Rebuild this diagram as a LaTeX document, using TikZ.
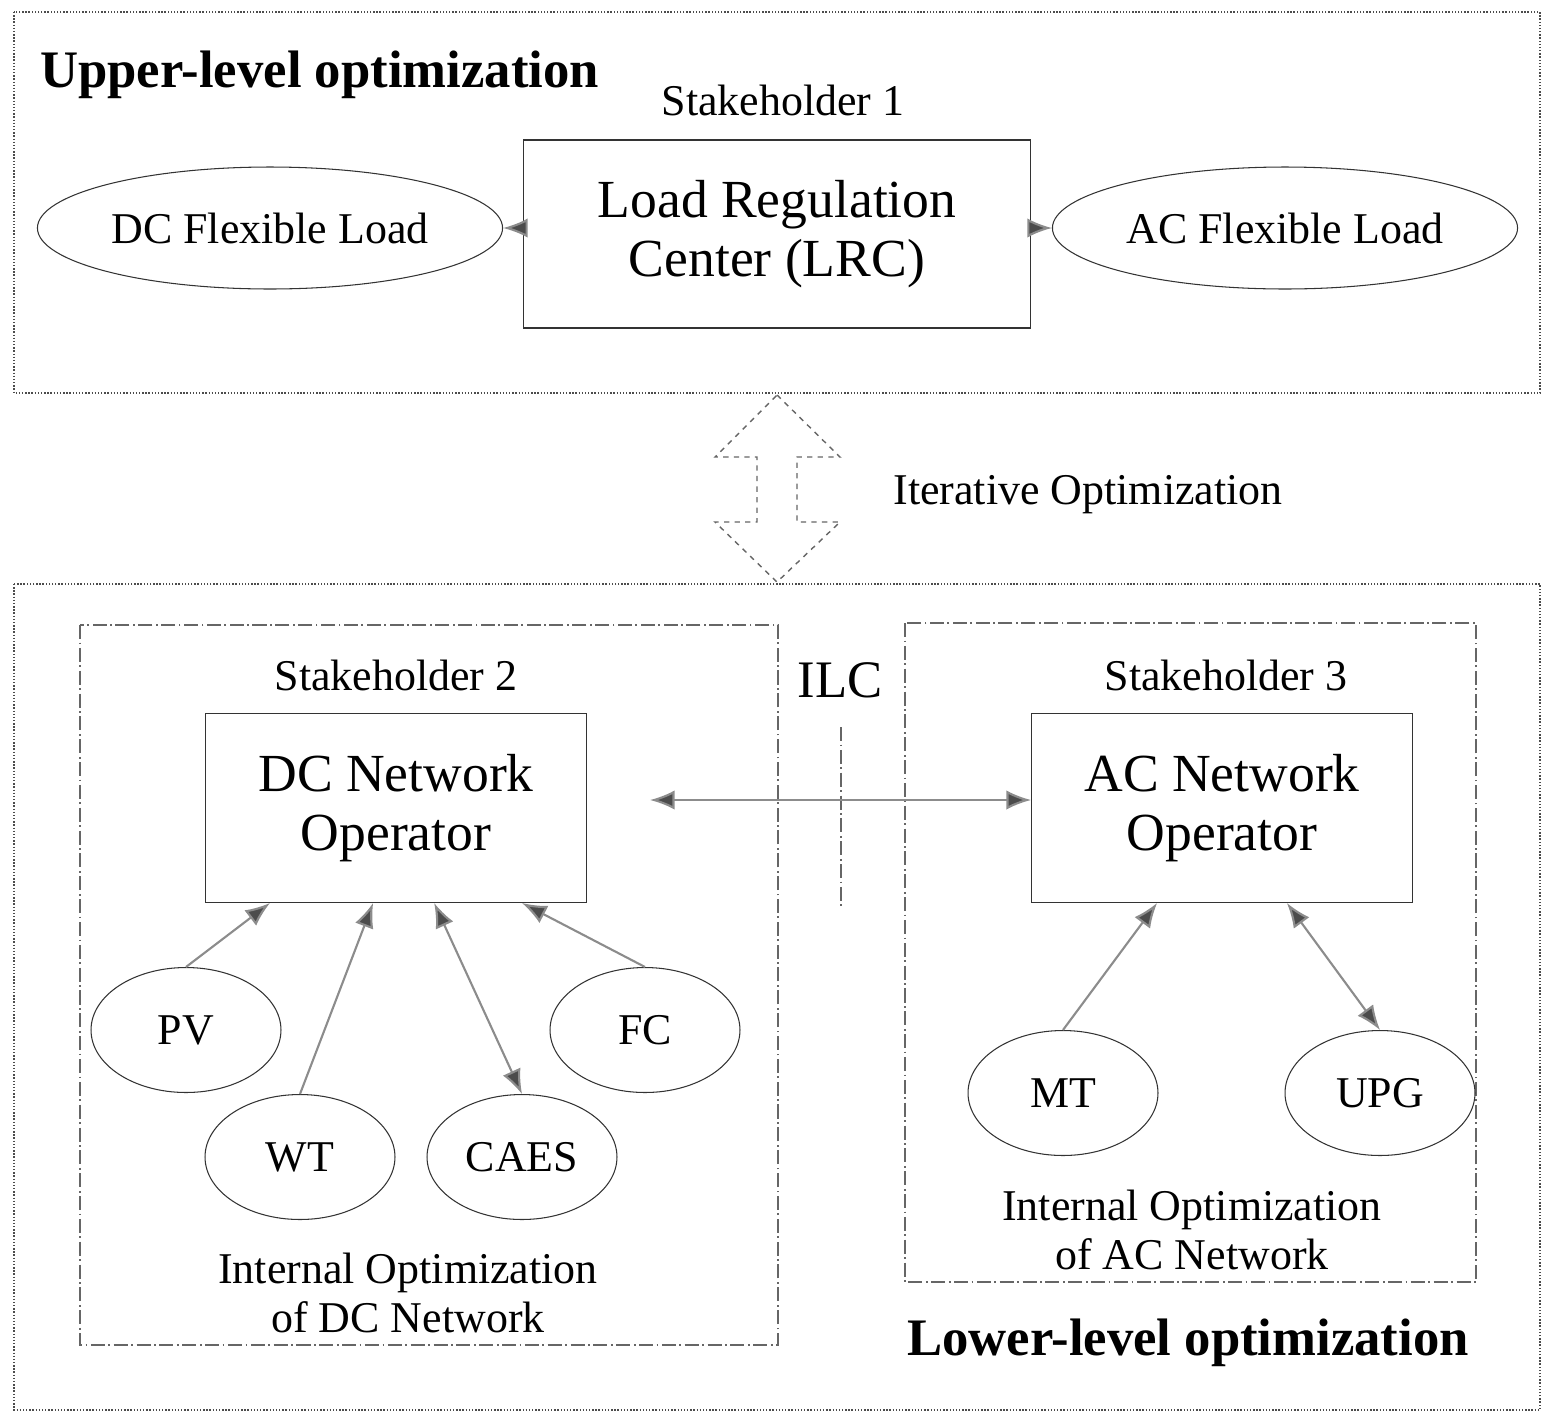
\documentclass[tikz,border=0pt]{standalone}
\usepackage{fontspec}
\setmainfont{Liberation Serif}
\usetikzlibrary{arrows.meta,calc,shapes.geometric}
\tikzset{
  zone/.style={draw=black!70, densely dotted, line width=0.8pt},
  sub/.style={draw=black!60, dash pattern=on 8pt off 2pt on 1pt off 2pt, line width=0.8pt},
  box/.style={draw=black!80, rectangle, line width=0.6pt, align=center, font=\fontsize{30.5}{34}\selectfont},
  unit/.style={draw=black!80, ellipse, line width=0.6pt, minimum width=3.8cm, minimum height=2.5cm, font=\fontsize{25}{29}\selectfont},
  load/.style={unit, minimum width=7.64cm, minimum height=2.44cm},
  lbl/.style={font=\fontsize{25}{28}\selectfont, align=center},
  ttl/.style={font=\bfseries\fontsize{30}{34}\selectfont},
  flow/.style={draw=black!45, line width=1.2pt, -{Latex[length=14pt,width=11pt,fill=black!70]}},
  both/.style={flow, {Latex[length=14pt,width=11pt,fill=black!70]}-{Latex[length=14pt,width=11pt,fill=black!70]}}
}
\begin{document}
\begin{tikzpicture}[x=0.02cm, y=-0.02cm]
  \useasboundingbox (0,0) rectangle (1552,1424);
  % upper and lower levels
  \draw[zone] (14,12) rectangle (1540,393);
  \draw[zone] (14,584) rectangle (1540,1410);
  \node(upper) at (34,75)[ttl, anchor=west]{Upper-level optimization};
  \node(lower) at (1188,1343)[ttl]{Lower-level optimization};
  \node(sh1) at (783,100)[lbl]{Stakeholder 1};
  \node(lrc) at (777,234)[box, minimum width=10.16cm, minimum height=3.76cm]{Load Regulation\\Center (LRC)};
  \node(dcl) at (270,228)[load]{DC Flexible Load};
  \node(acl) at (1285,228)[load]{AC Flexible Load};
  \draw[flow] (dcl.east -| lrc.west) -- (dcl.east);
  \draw[flow] (acl.west -| lrc.east) -- (acl.west);
  % iterative optimization
  \draw[draw=black!60, dashed, line width=0.8pt] (777,395) -- (840,457) -- (797,457) -- (797,522) -- (840,522)
    -- (777,582) -- (715,522) -- (757,522) -- (757,457) -- (715,457) -- cycle;
  \node(iter) at (1088,495)[lbl]{Iterative Optimization};
  % DC network
  \draw[sub] (80,625) rectangle (778,1345);
  \node(sh2) at (396,675)[lbl]{Stakeholder 2};
  \node(dcno) at (396,808)[box, minimum width=7.62cm, minimum height=3.78cm]{DC Network\\Operator};
  \node(pv) at (186,1030)[unit]{PV};
  \node(wt) at (300,1157)[unit]{WT};
  \node(caes) at (522,1157)[unit]{CAES};
  \node(fc) at (645,1030)[unit]{FC};
  \draw[flow] (pv.north) -- ($(dcno.south west)!0.17!(dcno.south east)$);
  \draw[flow] (wt.north) -- ($(dcno.south west)!0.44!(dcno.south east)$);
  \draw[both] (caes.north) -- ($(dcno.south west)!0.6!(dcno.south east)$);
  \draw[flow] (fc.north) -- ($(dcno.south west)!0.83!(dcno.south east)$);
  \node(dcint) at (408,1293)[lbl]{Internal Optimization\\of DC Network};
  % AC network
  \draw[sub] (905,623) rectangle (1476,1282);
  \node(sh3) at (1226,675)[lbl]{Stakeholder 3};
  \node(acno) at (1222,808)[box, minimum width=7.62cm, minimum height=3.78cm]{AC Network\\Operator};
  \node(mt) at (1063,1093)[unit]{MT};
  \node(upg) at (1380,1093)[unit]{UPG};
  \draw[flow] (mt.north) -- ($(acno.south west)!0.33!(acno.south east)$);
  \draw[both] (upg.north) -- ($(acno.south west)!0.67!(acno.south east)$);
  \node(acint) at (1192,1230)[lbl]{Internal Optimization\\of AC Network};
  % interlinking converter
  \node(ilc) at (840,680)[font=\fontsize{30}{34}\selectfont]{ILC};
  \coordinate(ilctop) at (841,727);
  \coordinate(ilcbot) at (841,908);
  \draw[sub] (ilctop) -- (ilcbot);
  \coordinate(link) at (650,800);
  \draw[both] (link) -- (link -| acno.west);
\end{tikzpicture}
\end{document}
